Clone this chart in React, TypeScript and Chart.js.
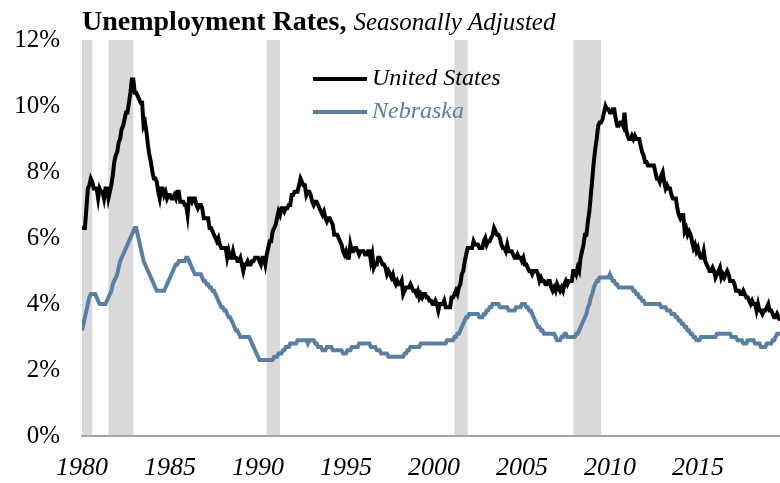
import React, { useEffect, useRef } from "react";
import { Chart, registerables } from "chart.js";

Chart.register(...registerables);

const FONT = '"Liberation Serif", "Times New Roman", serif';

const startYear = 1980;

// Monthly, Jan 1980 – Sep 2019 (percent)
const usRate = [
  6.3, 6.3, 6.3, 6.9, 7.5, 7.6, 7.8, 7.7, 7.5, 7.5, 7.5, 7.2,
  7.5, 7.4, 7.4, 7.2, 7.5, 7.5, 7.2, 7.4, 7.6, 7.9, 8.3, 8.5,
  8.6, 8.9, 9.0, 9.3, 9.4, 9.6, 9.8, 9.8, 10.1, 10.4, 10.8, 10.8,
  10.4, 10.4, 10.3, 10.2, 10.1, 10.1, 9.4, 9.5, 9.2, 8.8, 8.5, 8.3,
  8.0, 7.8, 7.8, 7.7, 7.4, 7.2, 7.5, 7.5, 7.3, 7.4, 7.2, 7.3,
  7.3, 7.2, 7.2, 7.3, 7.2, 7.4, 7.4, 7.1, 7.1, 7.1, 7.0, 7.0,
  6.7, 7.2, 7.2, 7.1, 7.2, 7.2, 7.0, 6.9, 7.0, 7.0, 6.9, 6.6,
  6.6, 6.6, 6.6, 6.3, 6.3, 6.2, 6.1, 6.0, 5.9, 6.0, 5.8, 5.7,
  5.7, 5.7, 5.7, 5.4, 5.6, 5.4, 5.4, 5.6, 5.4, 5.4, 5.3, 5.3,
  5.4, 5.2, 5.0, 5.2, 5.2, 5.3, 5.2, 5.2, 5.3, 5.3, 5.4, 5.4,
  5.4, 5.3, 5.2, 5.4, 5.4, 5.2, 5.5, 5.7, 5.9, 5.9, 6.2, 6.3,
  6.4, 6.6, 6.8, 6.7, 6.9, 6.9, 6.8, 6.9, 6.9, 7.0, 7.0, 7.3,
  7.3, 7.4, 7.4, 7.4, 7.6, 7.8, 7.7, 7.6, 7.6, 7.3, 7.4, 7.4,
  7.3, 7.1, 7.0, 7.1, 7.1, 7.0, 6.9, 6.8, 6.7, 6.8, 6.6, 6.5,
  6.6, 6.6, 6.5, 6.4, 6.1, 6.1, 6.1, 6.0, 5.9, 5.8, 5.6, 5.5,
  5.6, 5.4, 5.4, 5.8, 5.6, 5.6, 5.7, 5.7, 5.6, 5.5, 5.6, 5.6,
  5.6, 5.5, 5.5, 5.6, 5.6, 5.3, 5.5, 5.1, 5.2, 5.2, 5.4, 5.4,
  5.3, 5.2, 5.2, 5.1, 4.9, 5.0, 4.9, 4.8, 4.9, 4.7, 4.6, 4.7,
  4.6, 4.6, 4.7, 4.3, 4.4, 4.5, 4.5, 4.5, 4.6, 4.5, 4.4, 4.4,
  4.3, 4.4, 4.2, 4.3, 4.2, 4.3, 4.3, 4.2, 4.2, 4.1, 4.1, 4.0,
  4.0, 4.1, 4.0, 3.8, 4.0, 4.0, 4.0, 4.1, 3.9, 3.9, 3.9, 3.9,
  4.2, 4.2, 4.3, 4.4, 4.3, 4.5, 4.6, 4.9, 5.0, 5.3, 5.5, 5.7,
  5.7, 5.7, 5.7, 5.9, 5.8, 5.8, 5.8, 5.7, 5.7, 5.7, 5.9, 6.0,
  5.8, 5.9, 5.9, 6.0, 6.1, 6.3, 6.2, 6.1, 6.1, 6.0, 5.8, 5.7,
  5.7, 5.6, 5.8, 5.6, 5.6, 5.6, 5.5, 5.4, 5.4, 5.5, 5.4, 5.4,
  5.3, 5.4, 5.2, 5.2, 5.1, 5.0, 5.0, 4.9, 5.0, 5.0, 5.0, 4.9,
  4.7, 4.8, 4.7, 4.7, 4.6, 4.6, 4.7, 4.7, 4.5, 4.4, 4.5, 4.4,
  4.6, 4.5, 4.4, 4.5, 4.4, 4.6, 4.7, 4.6, 4.7, 4.7, 4.7, 5.0,
  5.0, 4.9, 5.1, 5.0, 5.4, 5.6, 5.8, 6.1, 6.1, 6.5, 6.8, 7.3,
  7.8, 8.3, 8.7, 9.0, 9.4, 9.5, 9.5, 9.6, 9.8, 10.0, 9.9, 9.9,
  9.8, 9.8, 9.9, 9.9, 9.6, 9.4, 9.4, 9.5, 9.5, 9.4, 9.8, 9.3,
  9.1, 9.0, 9.0, 9.1, 9.0, 9.1, 9.0, 9.0, 9.0, 8.8, 8.6, 8.5,
  8.3, 8.3, 8.2, 8.2, 8.2, 8.2, 8.2, 8.0, 7.8, 7.8, 7.7, 7.9,
  8.0, 7.7, 7.5, 7.6, 7.5, 7.5, 7.3, 7.2, 7.2, 7.2, 6.9, 6.7,
  6.6, 6.7, 6.7, 6.2, 6.3, 6.1, 6.2, 6.1, 5.9, 5.7, 5.8, 5.6,
  5.7, 5.5, 5.4, 5.4, 5.6, 5.3, 5.2, 5.1, 5.0, 5.0, 5.1, 5.0,
  4.8, 4.9, 5.0, 5.1, 4.8, 4.9, 4.8, 4.9, 5.0, 4.9, 4.7, 4.7,
  4.7, 4.6, 4.4, 4.4, 4.4, 4.3, 4.3, 4.4, 4.3, 4.2, 4.2, 4.1,
  4.0, 4.1, 4.0, 4.0, 3.8, 4.0, 3.8, 3.8, 3.7, 3.8, 3.8, 3.9,
  4.0, 3.8, 3.8, 3.7, 3.6, 3.6, 3.7, 3.6, 3.5,
];

const nebraskaRate = [
  3.2, 3.4, 3.6, 3.8, 4.0, 4.2, 4.3, 4.3, 4.3, 4.3, 4.2, 4.1,
  4.0, 4.0, 4.0, 4.0, 4.0, 4.1, 4.2, 4.3, 4.4, 4.6, 4.7, 4.8,
  4.9, 5.1, 5.3, 5.4, 5.5, 5.6, 5.7, 5.8, 5.9, 6.0, 6.1, 6.2,
  6.3, 6.3, 6.1, 5.9, 5.7, 5.5, 5.3, 5.2, 5.1, 5.0, 4.9, 4.8,
  4.7, 4.6, 4.5, 4.4, 4.4, 4.4, 4.4, 4.4, 4.4, 4.5, 4.6, 4.7,
  4.8, 4.9, 5.0, 5.1, 5.2, 5.2, 5.3, 5.3, 5.3, 5.3, 5.3, 5.4,
  5.4, 5.3, 5.2, 5.1, 5.0, 4.9, 4.9, 4.9, 4.9, 4.9, 4.8, 4.7,
  4.7, 4.6, 4.6, 4.5, 4.5, 4.4, 4.4, 4.3, 4.2, 4.1, 4.0, 3.9,
  3.9, 3.8, 3.8, 3.7, 3.6, 3.6, 3.5, 3.4, 3.3, 3.2, 3.2, 3.1,
  3.0, 3.0, 3.0, 3.0, 3.0, 3.0, 3.0, 2.9, 2.8, 2.7, 2.6, 2.5,
  2.4, 2.3, 2.3, 2.3, 2.3, 2.3, 2.3, 2.3, 2.3, 2.3, 2.3, 2.4,
  2.4, 2.4, 2.5, 2.5, 2.5, 2.6, 2.6, 2.7, 2.7, 2.7, 2.8, 2.8,
  2.8, 2.8, 2.8, 2.9, 2.9, 2.9, 2.9, 2.9, 2.9, 2.9, 2.8, 2.9,
  2.9, 2.9, 2.9, 2.8, 2.8, 2.7, 2.7, 2.7, 2.6, 2.6, 2.6, 2.7,
  2.7, 2.7, 2.7, 2.6, 2.6, 2.6, 2.6, 2.6, 2.6, 2.6, 2.5, 2.5,
  2.5, 2.6, 2.6, 2.6, 2.7, 2.7, 2.7, 2.7, 2.7, 2.8, 2.8, 2.8,
  2.8, 2.8, 2.8, 2.8, 2.8, 2.7, 2.7, 2.7, 2.7, 2.6, 2.6, 2.6,
  2.5, 2.5, 2.5, 2.5, 2.5, 2.4, 2.4, 2.4, 2.4, 2.4, 2.4, 2.4,
  2.4, 2.4, 2.4, 2.4, 2.5, 2.5, 2.6, 2.6, 2.7, 2.7, 2.7, 2.7,
  2.7, 2.7, 2.7, 2.8, 2.8, 2.8, 2.8, 2.8, 2.8, 2.8, 2.8, 2.8,
  2.8, 2.8, 2.8, 2.8, 2.8, 2.8, 2.8, 2.8, 2.8, 2.9, 2.9, 2.9,
  2.9, 2.9, 3.0, 3.0, 3.1, 3.1, 3.2, 3.3, 3.4, 3.5, 3.6, 3.6,
  3.7, 3.7, 3.7, 3.7, 3.7, 3.7, 3.7, 3.6, 3.6, 3.6, 3.7, 3.7,
  3.8, 3.8, 3.9, 3.9, 4.0, 4.0, 4.0, 4.0, 4.0, 3.9, 3.9, 3.9,
  3.9, 3.9, 3.9, 3.8, 3.8, 3.8, 3.8, 3.8, 3.9, 3.9, 3.9, 3.9,
  4.0, 4.0, 4.0, 3.9, 3.9, 3.8, 3.8, 3.7, 3.6, 3.5, 3.4, 3.3,
  3.3, 3.2, 3.2, 3.1, 3.1, 3.1, 3.1, 3.1, 3.1, 3.1, 3.1, 3.0,
  2.9, 2.9, 2.9, 3.0, 3.0, 3.1, 3.1, 3.0, 3.0, 3.0, 3.0, 3.0,
  3.0, 3.1, 3.1, 3.2, 3.3, 3.4, 3.5, 3.6, 3.7, 3.9, 4.0, 4.2,
  4.3, 4.5, 4.6, 4.7, 4.7, 4.8, 4.8, 4.8, 4.8, 4.8, 4.8, 4.8,
  4.9, 4.8, 4.7, 4.7, 4.6, 4.6, 4.5, 4.5, 4.5, 4.5, 4.5, 4.5,
  4.5, 4.5, 4.5, 4.5, 4.4, 4.4, 4.3, 4.3, 4.2, 4.2, 4.1, 4.1,
  4.0, 4.0, 4.0, 4.0, 4.0, 4.0, 4.0, 4.0, 4.0, 4.0, 4.0, 3.9,
  3.9, 3.9, 3.9, 3.8, 3.8, 3.8, 3.7, 3.7, 3.7, 3.6, 3.6, 3.5,
  3.5, 3.4, 3.4, 3.3, 3.3, 3.2, 3.2, 3.1, 3.1, 3.0, 3.0, 2.9,
  2.9, 2.9, 3.0, 3.0, 3.0, 3.0, 3.0, 3.0, 3.0, 3.0, 3.0, 3.0,
  3.0, 3.1, 3.1, 3.1, 3.1, 3.1, 3.1, 3.1, 3.1, 3.1, 3.1, 3.0,
  3.0, 3.0, 3.0, 2.9, 2.9, 2.9, 2.9, 2.8, 2.8, 2.8, 2.9, 2.9,
  2.9, 2.9, 2.9, 2.8, 2.8, 2.8, 2.8, 2.7, 2.7, 2.7, 2.7, 2.8,
  2.8, 2.8, 2.8, 2.9, 2.9, 3.0, 3.1, 3.1, 3.1,
];

// Recession periods (decimal years)
const recessionStart = [1980.0, 1981.5, 1990.5, 2001.167, 2007.917];
const recessionEnd = [1980.583, 1982.917, 1991.25, 2001.917, 2009.5];

const seriesNames = ["United States", "Nebraska"];
const seriesColors = ["#000000", "#5b7fa1"];
const titleBold = "Unemployment Rates,";
const titleItalic = "Seasonally Adjusted";

const xMin = 1980;
const xMax = 2019 + 8 / 12;

const toPoints = (arr: number[]) =>
  arr.map((v, i) => ({ x: startYear + i / 12, y: v }));

const recessionPlugin = {
  id: "recessions",
  beforeDraw(chart: any) {
    const { ctx, chartArea, scales } = chart;
    const x = scales.x;
    ctx.save();
    ctx.fillStyle = "#d9d9d9";
    for (let i = 0; i < recessionStart.length; i++) {
      const x0 = x.getPixelForValue(recessionStart[i]);
      const x1 = x.getPixelForValue(recessionEnd[i]);
      ctx.fillRect(x0, chartArea.top, x1 - x0, chartArea.bottom - chartArea.top);
    }
    ctx.restore();
  },
};

const decorPlugin = {
  id: "decor",
  afterDraw(chart: any) {
    const { ctx, chartArea } = chart;
    ctx.save();
    // Title
    ctx.textBaseline = "alphabetic";
    ctx.textAlign = "left";
    ctx.fillStyle = "#000";
    ctx.font = `bold 28px ${FONT}`;
    const tx = chartArea.left;
    ctx.fillText(titleBold, tx, 30);
    const w = ctx.measureText(titleBold + " ").width;
    ctx.font = `italic 25px ${FONT}`;
    ctx.fillText(titleItalic, tx + w, 30);

    // Legend
    const lx0 = 313;
    const lx1 = 367;
    const rows = [79, 112];
    for (let i = 0; i < seriesNames.length; i++) {
      ctx.strokeStyle = seriesColors[i];
      ctx.lineWidth = 4;
      ctx.beginPath();
      ctx.moveTo(lx0, rows[i]);
      ctx.lineTo(lx1, rows[i]);
      ctx.stroke();
      ctx.fillStyle = seriesColors[i];
      ctx.font = `italic 24px ${FONT}`;
      ctx.textBaseline = "middle";
      ctx.fillText(seriesNames[i], 372, rows[i]);
    }
    ctx.restore();
  },
};

export default function App() {
  const ref = useRef<HTMLCanvasElement | null>(null);

  useEffect(() => {
    if (!ref.current) return;
    const chart = new Chart(ref.current, {
      type: "line",
      data: {
        datasets: [
          {
            label: seriesNames[0],
            data: toPoints(usRate),
            borderColor: seriesColors[0],
            borderWidth: 4,
            pointRadius: 0,
            tension: 0,
            fill: false,
          },
          {
            label: seriesNames[1],
            data: toPoints(nebraskaRate),
            borderColor: seriesColors[1],
            borderWidth: 4,
            pointRadius: 0,
            tension: 0,
            fill: false,
          },
        ],
      },
      options: {
        responsive: false,
        animation: false,
        devicePixelRatio: 1,
        layout: { padding: { top: 40, left: 0, right: 0, bottom: 0 } },
        plugins: {
          legend: { display: false },
          title: { display: false },
          tooltip: { enabled: false },
        },
        scales: {
          x: {
            type: "linear",
            min: xMin,
            max: xMax,
            grid: { display: false, drawTicks: false },
            border: { display: true, color: "#a6a6a6", width: 2 },
            ticks: {
              stepSize: 5,
              includeBounds: false,
              autoSkip: false,
              maxRotation: 0,
              minRotation: 0,
              padding: 17,
              color: "#000",
              font: { family: FONT, size: 26, style: "italic" },
              callback: (v: any) => (Number(v) % 5 === 0 ? String(v) : ""),
            },
            afterFit: (s: any) => {
              s.height = 47;
            },
          },
          y: {
            min: 0,
            max: 12,
            grid: { display: false, drawTicks: false },
            border: { display: false },
            ticks: {
              stepSize: 2,
              padding: 22,
              color: "#000",
              font: { family: FONT, size: 25 },
              callback: (v: any) => `${v}%`,
            },
            afterFit: (s: any) => {
              s.width = 82;
            },
          },
        },
      },
      plugins: [recessionPlugin, decorPlugin],
    } as any);
    return () => chart.destroy();
  }, []);

  return (
    <div style={{ position: "absolute", left: 0, top: 0, width: 780, height: 483, background: "#fff" }}>
      <canvas ref={ref} width={780} height={483} style={{ display: "block" }} />
    </div>
  );
}
